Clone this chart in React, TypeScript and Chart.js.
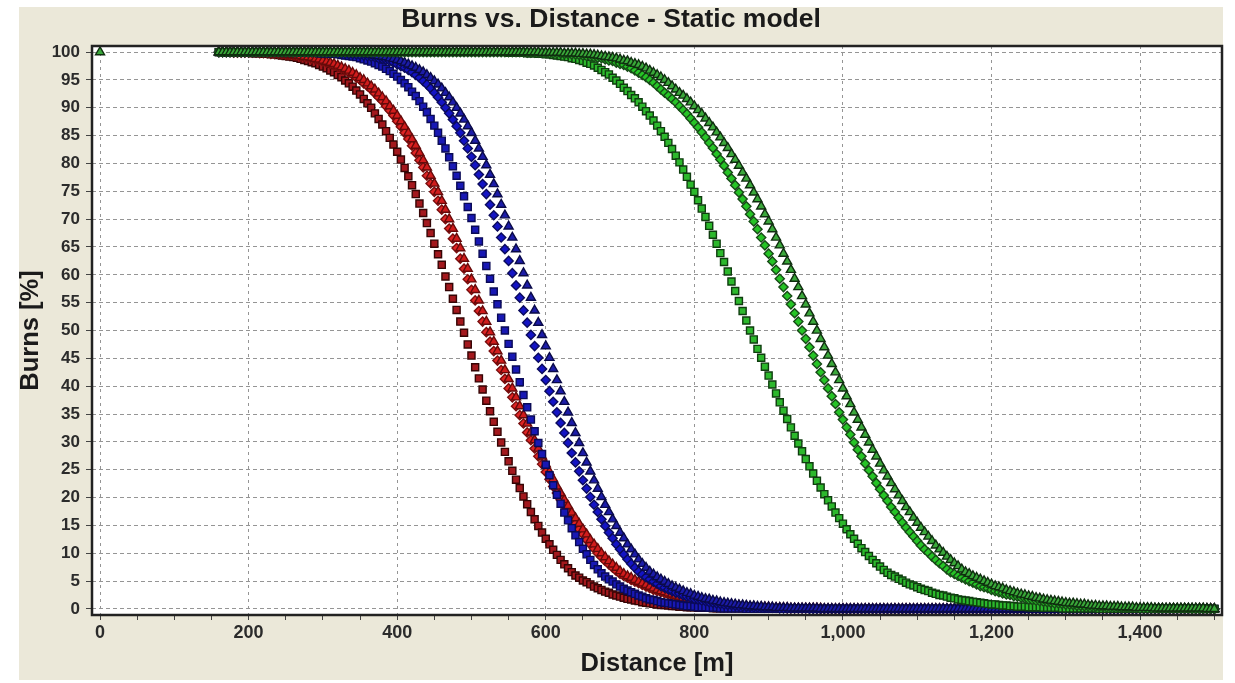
import React, { useEffect, useRef } from "react";
import { Chart, registerables } from "chart.js";

Chart.register(...registerables);

const FONT = '"Liberation Sans", Arial, Helvetica, sans-serif';

// Distance grid [m]
const DIST = [
  160, 165, 170, 175, 180, 185, 190, 195, 200, 205,
  210, 215, 220, 225, 230, 235, 240, 245, 250, 255,
  260, 265, 270, 275, 280, 285, 290, 295, 300, 305,
  310, 315, 320, 325, 330, 335, 340, 345, 350, 355,
  360, 365, 370, 375, 380, 385, 390, 395, 400, 405,
  410, 415, 420, 425, 430, 435, 440, 445, 450, 455,
  460, 465, 470, 475, 480, 485, 490, 495, 500, 505,
  510, 515, 520, 525, 530, 535, 540, 545, 550, 555,
  560, 565, 570, 575, 580, 585, 590, 595, 600, 605,
  610, 615, 620, 625, 630, 635, 640, 645, 650, 655,
  660, 665, 670, 675, 680, 685, 690, 695, 700, 705,
  710, 715, 720, 725, 730, 735, 740, 745, 750, 755,
  760, 765, 770, 775, 780, 785, 790, 795, 800, 805,
  810, 815, 820, 825, 830, 835, 840, 845, 850, 855,
  860, 865, 870, 875, 880, 885, 890, 895, 900, 905,
  910, 915, 920, 925, 930, 935, 940, 945, 950, 955,
  960, 965, 970, 975, 980, 985, 990, 995, 1000, 1005,
  1010, 1015, 1020, 1025, 1030, 1035, 1040, 1045, 1050, 1055,
  1060, 1065, 1070, 1075, 1080, 1085, 1090, 1095, 1100, 1105,
  1110, 1115, 1120, 1125, 1130, 1135, 1140, 1145, 1150, 1155,
  1160, 1165, 1170, 1175, 1180, 1185, 1190, 1195, 1200, 1205,
  1210, 1215, 1220, 1225, 1230, 1235, 1240, 1245, 1250, 1255,
  1260, 1265, 1270, 1275, 1280, 1285, 1290, 1295, 1300, 1305,
  1310, 1315, 1320, 1325, 1330, 1335, 1340, 1345, 1350, 1355,
  1360, 1365, 1370, 1375, 1380, 1385, 1390, 1395, 1400, 1405,
  1410, 1415, 1420, 1425, 1430, 1435, 1440, 1445, 1450, 1455,
  1460, 1465, 1470, 1475, 1480, 1485, 1490, 1495, 1500,
];

const RED_SQ = [
  100, 100, 99.9, 99.9, 99.9, 99.9, 99.9, 99.9, 99.9, 99.8,
  99.8, 99.8, 99.7, 99.7, 99.6, 99.6, 99.5, 99.4, 99.3, 99.2,
  99.1, 99.0, 98.8, 98.6, 98.4, 98.2, 98.0, 97.7, 97.4, 97.1,
  96.7, 96.4, 95.9, 95.5, 94.9, 94.4, 93.8, 93.1, 92.4, 91.6,
  90.8, 90.0, 89.0, 88.0, 87.0, 85.8, 84.6, 83.4, 82.1, 80.7,
  79.2, 77.7, 76.1, 74.5, 72.8, 71.1, 69.3, 67.5, 65.6, 63.7,
  61.8, 59.7, 57.8, 55.7, 53.7, 51.6, 49.6, 47.5, 45.5, 43.4,
  41.4, 39.4, 37.4, 35.5, 33.6, 31.8, 29.9, 28.2, 26.5, 24.8,
  23.2, 21.7, 20.2, 18.8, 17.4, 16.1, 14.9, 13.7, 12.6, 11.6,
  10.6, 9.7, 8.8, 8.0, 7.3, 6.6, 6.0, 5.6, 5.1, 4.8,
  4.4, 4.0, 3.7, 3.4, 3.1, 2.9, 2.6, 2.4, 2.2, 2.0,
  1.8, 1.7, 1.5, 1.4, 1.2, 1.1, 1.0, 0.9, 0.8, 0.7,
  0.7, 0.6, 0.5, 0.5, 0.4, 0.4, 0.3, 0.3, 0.3, 0.2,
  0.2, 0.2, 0.2, 0.1, 0.1, 0.1, 0.1, 0.1, 0.1, 0.1,
  0.1, 0.1, 0, 0, 0, 0, 0, 0, 0, 0,
  0, 0, 0, 0, 0, 0, 0, 0, 0, 0,
  0, 0, 0, 0, 0, 0, 0, 0, 0, 0,
  0, 0, 0, 0, 0, 0, 0, 0, 0, 0,
  0, 0, 0, 0, 0, 0, 0, 0, 0, 0,
  0, 0, 0, 0, 0, 0, 0, 0, 0, 0,
  0, 0, 0, 0, 0, 0, 0, 0, 0, 0,
  0, 0, 0, 0, 0, 0, 0, 0, 0, 0,
  0, 0, 0, 0, 0, 0, 0, 0, 0, 0,
  0, 0, 0, 0, 0, 0, 0, 0, 0, 0,
  0, 0, 0, 0, 0, 0, 0, 0, 0, 0,
  0, 0, 0, 0, 0, 0, 0, 0, 0, 0,
  0, 0, 0, 0, 0, 0, 0, 0, 0,
];

const RED_DIA = [
  100, 100, 100, 100, 99.9, 99.9, 99.9, 99.9, 99.9, 99.9,
  99.9, 99.8, 99.8, 99.8, 99.7, 99.7, 99.7, 99.6, 99.5, 99.5,
  99.4, 99.3, 99.2, 99.1, 99.0, 98.8, 98.7, 98.5, 98.3, 98.1,
  97.9, 97.6, 97.3, 97.0, 96.7, 96.3, 95.9, 95.4, 95.0, 94.4,
  93.9, 93.3, 92.6, 91.9, 91.2, 90.3, 89.5, 88.6, 87.6, 86.6,
  85.5, 84.4, 83.2, 81.9, 80.6, 79.3, 77.8, 76.4, 74.9, 73.3,
  71.7, 70.0, 68.3, 66.5, 64.8, 62.9, 61.1, 59.2, 57.3, 55.4,
  53.5, 51.6, 49.7, 48.0, 46.3, 44.6, 42.9, 41.3, 39.6, 38.0,
  36.4, 34.8, 33.3, 31.7, 30.3, 28.8, 27.4, 26.0, 24.6, 23.3,
  22.0, 20.8, 19.6, 18.5, 17.3, 16.3, 15.3, 14.3, 13.4, 12.4,
  11.6, 10.8, 10.0, 9.3, 8.6, 8.0, 7.4, 6.8, 6.3, 5.9,
  5.6, 5.2, 4.9, 4.6, 4.3, 4.0, 3.7, 3.4, 3.2, 3.0,
  2.8, 2.6, 2.4, 2.2, 2.0, 1.9, 1.7, 1.6, 1.5, 1.4,
  1.2, 1.1, 1.0, 1.0, 0.9, 0.8, 0.7, 0.7, 0.6, 0.6,
  0.5, 0.5, 0.4, 0.4, 0.3, 0.3, 0.3, 0.3, 0.2, 0.2,
  0.2, 0.2, 0.2, 0.1, 0.1, 0.1, 0.1, 0.1, 0.1, 0.1,
  0.1, 0.1, 0, 0, 0, 0, 0, 0, 0, 0,
  0, 0, 0, 0, 0, 0, 0, 0, 0, 0,
  0, 0, 0, 0, 0, 0, 0, 0, 0, 0,
  0, 0, 0, 0, 0, 0, 0, 0, 0, 0,
  0, 0, 0, 0, 0, 0, 0, 0, 0, 0,
  0, 0, 0, 0, 0, 0, 0, 0, 0, 0,
  0, 0, 0, 0, 0, 0, 0, 0, 0, 0,
  0, 0, 0, 0, 0, 0, 0, 0, 0, 0,
  0, 0, 0, 0, 0, 0, 0, 0, 0, 0,
  0, 0, 0, 0, 0, 0, 0, 0, 0, 0,
  0, 0, 0, 0, 0, 0, 0, 0, 0,
];

const RED_TRI = [
  100, 100, 100, 100, 100, 99.9, 99.9, 99.9, 99.9, 99.9,
  99.9, 99.9, 99.8, 99.8, 99.8, 99.7, 99.7, 99.7, 99.6, 99.5,
  99.5, 99.4, 99.3, 99.2, 99.1, 99.0, 98.8, 98.7, 98.5, 98.3,
  98.1, 97.9, 97.6, 97.3, 97.0, 96.7, 96.3, 95.9, 95.4, 95.0,
  94.4, 93.9, 93.3, 92.6, 91.9, 91.2, 90.3, 89.5, 88.6, 87.6,
  86.6, 85.5, 84.4, 83.2, 81.9, 80.6, 79.3, 77.8, 76.4, 74.9,
  73.3, 71.7, 70.0, 68.3, 66.5, 64.8, 62.9, 61.1, 59.2, 57.3,
  55.4, 53.5, 51.6, 49.7, 48.0, 46.3, 44.6, 42.9, 41.3, 39.6,
  38.0, 36.4, 34.8, 33.3, 31.7, 30.3, 28.8, 27.4, 26.0, 24.6,
  23.3, 22.0, 20.8, 19.6, 18.5, 17.3, 16.3, 15.3, 14.3, 13.4,
  12.4, 11.6, 10.8, 10.0, 9.3, 8.6, 8.0, 7.4, 6.8, 6.3,
  5.9, 5.6, 5.2, 4.9, 4.6, 4.3, 4.0, 3.7, 3.4, 3.2,
  3.0, 2.8, 2.6, 2.4, 2.2, 2.0, 1.9, 1.7, 1.6, 1.5,
  1.4, 1.2, 1.1, 1.0, 1.0, 0.9, 0.8, 0.7, 0.7, 0.6,
  0.6, 0.5, 0.5, 0.4, 0.4, 0.3, 0.3, 0.3, 0.3, 0.2,
  0.2, 0.2, 0.2, 0.2, 0.1, 0.1, 0.1, 0.1, 0.1, 0.1,
  0.1, 0.1, 0.1, 0, 0, 0, 0, 0, 0, 0,
  0, 0, 0, 0, 0, 0, 0, 0, 0, 0,
  0, 0, 0, 0, 0, 0, 0, 0, 0, 0,
  0, 0, 0, 0, 0, 0, 0, 0, 0, 0,
  0, 0, 0, 0, 0, 0, 0, 0, 0, 0,
  0, 0, 0, 0, 0, 0, 0, 0, 0, 0,
  0, 0, 0, 0, 0, 0, 0, 0, 0, 0,
  0, 0, 0, 0, 0, 0, 0, 0, 0, 0,
  0, 0, 0, 0, 0, 0, 0, 0, 0, 0,
  0, 0, 0, 0, 0, 0, 0, 0, 0, 0,
  0, 0, 0, 0, 0, 0, 0, 0, 0,
];

const BLUE_SQ = [
  100, 100, 100, 100, 100, 100, 100, 100, 100, 100,
  100, 100, 100, 100, 100, 100, 100, 100, 100, 100,
  100, 100, 99.9, 99.9, 99.9, 99.9, 99.9, 99.8, 99.8, 99.8,
  99.7, 99.7, 99.6, 99.5, 99.4, 99.3, 99.2, 99.1, 98.9, 98.7,
  98.5, 98.3, 98.0, 97.7, 97.4, 97.0, 96.6, 96.1, 95.6, 95.0,
  94.4, 93.7, 92.9, 92.1, 91.2, 90.2, 89.2, 88.0, 86.8, 85.5,
  84.1, 82.7, 81.1, 79.5, 77.8, 76.0, 74.1, 72.2, 70.2, 68.1,
  66.0, 63.8, 61.6, 59.3, 57.0, 54.7, 52.3, 50.0, 47.6, 45.3,
  43.0, 40.7, 38.4, 36.2, 34.0, 31.9, 29.8, 27.8, 25.9, 24.0,
  22.2, 20.5, 18.9, 17.3, 15.9, 14.5, 13.2, 12.0, 10.8, 9.8,
  8.8, 7.9, 7.1, 6.4, 5.8, 5.3, 4.9, 4.4, 4.0, 3.6,
  3.3, 3.0, 2.7, 2.4, 2.2, 1.9, 1.7, 1.6, 1.4, 1.2,
  1.1, 1.0, 0.9, 0.8, 0.7, 0.6, 0.5, 0.5, 0.4, 0.3,
  0.3, 0.3, 0.2, 0.2, 0.2, 0.1, 0.1, 0.1, 0.1, 0.1,
  0.1, 0.1, 0, 0, 0, 0, 0, 0, 0, 0,
  0, 0, 0, 0, 0, 0, 0, 0, 0, 0,
  0, 0, 0, 0, 0, 0, 0, 0, 0, 0,
  0, 0, 0, 0, 0, 0, 0, 0, 0, 0,
  0, 0, 0, 0, 0, 0, 0, 0, 0, 0,
  0, 0, 0, 0, 0, 0, 0, 0, 0, 0,
  0, 0, 0, 0, 0, 0, 0, 0, 0, 0,
  0, 0, 0, 0, 0, 0, 0, 0, 0, 0,
  0, 0, 0, 0, 0, 0, 0, 0, 0, 0,
  0, 0, 0, 0, 0, 0, 0, 0, 0, 0,
  0, 0, 0, 0, 0, 0, 0, 0, 0, 0,
  0, 0, 0, 0, 0, 0, 0, 0, 0, 0,
  0, 0, 0, 0, 0, 0, 0, 0, 0,
];

const BLUE_DIA = [
  100, 100, 100, 100, 100, 100, 100, 100, 100, 100,
  100, 100, 100, 100, 100, 100, 100, 100, 100, 100,
  100, 100, 100, 100, 100, 100, 100, 99.9, 99.9, 99.9,
  99.9, 99.9, 99.8, 99.8, 99.8, 99.7, 99.7, 99.6, 99.5, 99.4,
  99.3, 99.2, 99.1, 98.9, 98.8, 98.6, 98.4, 98.1, 97.8, 97.5,
  97.2, 96.8, 96.4, 95.9, 95.4, 94.8, 94.2, 93.5, 92.7, 91.9,
  91.0, 90.0, 89.0, 87.9, 86.7, 85.5, 84.1, 82.7, 81.2, 79.7,
  78.0, 76.3, 74.5, 72.6, 70.7, 68.7, 66.7, 64.6, 62.5, 60.3,
  58.1, 55.9, 53.6, 51.4, 49.2, 47.2, 45.1, 43.1, 41.1, 39.1,
  37.2, 35.3, 33.4, 31.6, 29.8, 28.0, 26.3, 24.7, 23.1, 21.6,
  20.1, 18.7, 17.4, 16.1, 14.9, 13.7, 12.7, 11.6, 10.7, 9.8,
  8.9, 8.1, 7.4, 6.7, 6.2, 5.7, 5.3, 4.9, 4.5, 4.1,
  3.8, 3.5, 3.2, 2.9, 2.7, 2.4, 2.2, 2.0, 1.8, 1.7,
  1.5, 1.4, 1.2, 1.1, 1.0, 0.9, 0.8, 0.7, 0.7, 0.6,
  0.5, 0.5, 0.4, 0.4, 0.3, 0.3, 0.3, 0.2, 0.2, 0.2,
  0.2, 0.1, 0.1, 0.1, 0.1, 0.1, 0.1, 0.1, 0.1, 0,
  0, 0, 0, 0, 0, 0, 0, 0, 0, 0,
  0, 0, 0, 0, 0, 0, 0, 0, 0, 0,
  0, 0, 0, 0, 0, 0, 0, 0, 0, 0,
  0, 0, 0, 0, 0, 0, 0, 0, 0, 0,
  0, 0, 0, 0, 0, 0, 0, 0, 0, 0,
  0, 0, 0, 0, 0, 0, 0, 0, 0, 0,
  0, 0, 0, 0, 0, 0, 0, 0, 0, 0,
  0, 0, 0, 0, 0, 0, 0, 0, 0, 0,
  0, 0, 0, 0, 0, 0, 0, 0, 0, 0,
  0, 0, 0, 0, 0, 0, 0, 0, 0, 0,
  0, 0, 0, 0, 0, 0, 0, 0, 0,
];

const BLUE_TRI = [
  100, 100, 100, 100, 100, 100, 100, 100, 100, 100,
  100, 100, 100, 100, 100, 100, 100, 100, 100, 100,
  100, 100, 100, 100, 100, 100, 100, 100, 100, 100,
  99.9, 99.9, 99.9, 99.9, 99.9, 99.8, 99.8, 99.8, 99.7, 99.7,
  99.6, 99.5, 99.4, 99.3, 99.2, 99.1, 98.9, 98.8, 98.6, 98.4,
  98.1, 97.8, 97.5, 97.2, 96.8, 96.4, 95.9, 95.4, 94.8, 94.2,
  93.5, 92.7, 91.9, 91.0, 90.0, 89.0, 87.9, 86.7, 85.5, 84.1,
  82.7, 81.2, 79.7, 78.0, 76.3, 74.5, 72.6, 70.7, 68.7, 66.7,
  64.6, 62.5, 60.3, 58.1, 55.9, 53.6, 51.4, 49.2, 47.2, 45.1,
  43.1, 41.1, 39.1, 37.2, 35.3, 33.4, 31.6, 29.8, 28.0, 26.3,
  24.7, 23.1, 21.6, 20.1, 18.7, 17.4, 16.1, 14.9, 13.7, 12.7,
  11.6, 10.7, 9.8, 8.9, 8.1, 7.4, 6.7, 6.2, 5.7, 5.3,
  4.9, 4.5, 4.1, 3.8, 3.5, 3.2, 2.9, 2.7, 2.4, 2.2,
  2.0, 1.8, 1.7, 1.5, 1.4, 1.2, 1.1, 1.0, 0.9, 0.8,
  0.7, 0.7, 0.6, 0.5, 0.5, 0.4, 0.4, 0.3, 0.3, 0.3,
  0.2, 0.2, 0.2, 0.2, 0.1, 0.1, 0.1, 0.1, 0.1, 0.1,
  0.1, 0.1, 0, 0, 0, 0, 0, 0, 0, 0,
  0, 0, 0, 0, 0, 0, 0, 0, 0, 0,
  0, 0, 0, 0, 0, 0, 0, 0, 0, 0,
  0, 0, 0, 0, 0, 0, 0, 0, 0, 0,
  0, 0, 0, 0, 0, 0, 0, 0, 0, 0,
  0, 0, 0, 0, 0, 0, 0, 0, 0, 0,
  0, 0, 0, 0, 0, 0, 0, 0, 0, 0,
  0, 0, 0, 0, 0, 0, 0, 0, 0, 0,
  0, 0, 0, 0, 0, 0, 0, 0, 0, 0,
  0, 0, 0, 0, 0, 0, 0, 0, 0, 0,
  0, 0, 0, 0, 0, 0, 0, 0, 0,
];

const GREEN_SQ = [
  100, 100, 100, 100, 100, 100, 100, 100, 100, 100,
  100, 100, 100, 100, 100, 100, 100, 100, 100, 100,
  100, 100, 100, 100, 100, 100, 100, 100, 100, 100,
  100, 100, 100, 100, 100, 100, 100, 100, 100, 100,
  100, 100, 100, 100, 100, 100, 100, 100, 100, 100,
  100, 100, 100, 100, 100, 100, 100, 100, 100, 100,
  100, 100, 100, 100, 100, 100, 100, 100, 100, 100,
  100, 100, 100, 100, 100, 100, 100, 100, 99.9, 99.9,
  99.9, 99.9, 99.9, 99.8, 99.8, 99.8, 99.7, 99.7, 99.6, 99.6,
  99.5, 99.4, 99.3, 99.2, 99.1, 98.9, 98.8, 98.6, 98.4, 98.1,
  97.9, 97.6, 97.2, 96.8, 96.4, 96.0, 95.4, 94.9, 94.3, 93.6,
  93.0, 92.3, 91.7, 91.0, 90.2, 89.4, 88.6, 87.7, 86.8, 85.8,
  84.8, 83.7, 82.6, 81.4, 80.2, 78.9, 77.6, 76.2, 74.9, 73.4,
  71.9, 70.4, 68.8, 67.2, 65.6, 63.9, 62.3, 60.6, 58.8, 57.1,
  55.3, 53.5, 51.8, 50.0, 48.4, 46.7, 45.1, 43.5, 41.9, 40.3,
  38.7, 37.1, 35.6, 34.1, 32.6, 31.1, 29.7, 28.3, 26.9, 25.6,
  24.3, 23.0, 21.8, 20.6, 19.5, 18.4, 17.3, 16.3, 15.3, 14.3,
  13.4, 12.6, 11.7, 10.9, 10.2, 9.5, 8.8, 8.2, 7.6, 7.0,
  6.5, 6.1, 5.8, 5.4, 5.1, 4.7, 4.4, 4.2, 3.9, 3.6,
  3.4, 3.2, 2.9, 2.7, 2.5, 2.4, 2.2, 2.0, 1.9, 1.7,
  1.6, 1.5, 1.4, 1.3, 1.2, 1.1, 1.0, 0.9, 0.8, 0.8,
  0.7, 0.6, 0.6, 0.5, 0.5, 0.4, 0.4, 0.4, 0.3, 0.3,
  0.3, 0.3, 0.2, 0.2, 0.2, 0.2, 0.2, 0.1, 0.1, 0.1,
  0.1, 0.1, 0.1, 0.1, 0.1, 0.1, 0.1, 0, 0, 0,
  0, 0, 0, 0, 0, 0, 0, 0, 0, 0,
  0, 0, 0, 0, 0, 0, 0, 0, 0, 0,
  0, 0, 0, 0, 0, 0, 0, 0, 0,
];

const GREEN_DIA = [
  100, 100, 100, 100, 100, 100, 100, 100, 100, 100,
  100, 100, 100, 100, 100, 100, 100, 100, 100, 100,
  100, 100, 100, 100, 100, 100, 100, 100, 100, 100,
  100, 100, 100, 100, 100, 100, 100, 100, 100, 100,
  100, 100, 100, 100, 100, 100, 100, 100, 100, 100,
  100, 100, 100, 100, 100, 100, 100, 100, 100, 100,
  100, 100, 100, 100, 100, 100, 100, 100, 100, 100,
  100, 100, 100, 100, 100, 100, 100, 100, 100, 100,
  100, 100, 100, 99.9, 99.9, 99.9, 99.9, 99.9, 99.9, 99.8,
  99.8, 99.8, 99.8, 99.7, 99.7, 99.6, 99.6, 99.5, 99.4, 99.3,
  99.2, 99.1, 99.0, 98.9, 98.7, 98.5, 98.4, 98.1, 97.9, 97.7,
  97.4, 97.1, 96.7, 96.3, 95.9, 95.5, 95.0, 94.5, 93.9, 93.3,
  92.7, 92.2, 91.6, 91.0, 90.3, 89.6, 88.9, 88.1, 87.3, 86.5,
  85.6, 84.7, 83.7, 82.8, 81.7, 80.7, 79.6, 78.4, 77.3, 76.1,
  74.8, 73.6, 72.3, 70.9, 69.6, 68.2, 66.7, 65.3, 63.8, 62.4,
  60.9, 59.3, 57.8, 56.2, 54.7, 53.1, 51.6, 50.0, 48.5, 47.0,
  45.5, 44.0, 42.5, 41.1, 39.6, 38.2, 36.8, 35.3, 34.0, 32.6,
  31.3, 29.9, 28.6, 27.4, 26.1, 24.9, 23.8, 22.6, 21.5, 20.4,
  19.4, 18.3, 17.4, 16.4, 15.5, 14.6, 13.8, 13.0, 12.2, 11.4,
  10.7, 10.1, 9.4, 8.8, 8.2, 7.7, 7.1, 6.6, 6.3, 5.9,
  5.6, 5.3, 5.0, 4.7, 4.4, 4.1, 3.9, 3.7, 3.4, 3.2,
  3.0, 2.8, 2.6, 2.5, 2.3, 2.2, 2.0, 1.9, 1.7, 1.6,
  1.5, 1.4, 1.3, 1.2, 1.1, 1.0, 1.0, 0.9, 0.8, 0.8,
  0.7, 0.6, 0.6, 0.5, 0.5, 0.5, 0.4, 0.4, 0.4, 0.3,
  0.3, 0.3, 0.3, 0.2, 0.2, 0.2, 0.2, 0.2, 0.1, 0.1,
  0.1, 0.1, 0.1, 0.1, 0.1, 0.1, 0.1, 0.1, 0.1, 0.1,
  0.1, 0.1, 0, 0, 0, 0, 0, 0, 0,
];

const GREEN_TRI = [
  100, 100, 100, 100, 100, 100, 100, 100, 100, 100,
  100, 100, 100, 100, 100, 100, 100, 100, 100, 100,
  100, 100, 100, 100, 100, 100, 100, 100, 100, 100,
  100, 100, 100, 100, 100, 100, 100, 100, 100, 100,
  100, 100, 100, 100, 100, 100, 100, 100, 100, 100,
  100, 100, 100, 100, 100, 100, 100, 100, 100, 100,
  100, 100, 100, 100, 100, 100, 100, 100, 100, 100,
  100, 100, 100, 100, 100, 100, 100, 100, 100, 100,
  100, 100, 100, 100, 100, 100, 100, 99.9, 99.9, 99.9,
  99.9, 99.9, 99.9, 99.8, 99.8, 99.8, 99.8, 99.7, 99.7, 99.6,
  99.6, 99.5, 99.4, 99.3, 99.2, 99.1, 99.0, 98.9, 98.7, 98.5,
  98.4, 98.1, 97.9, 97.7, 97.4, 97.1, 96.7, 96.3, 95.9, 95.5,
  95.0, 94.5, 93.9, 93.3, 92.7, 92.2, 91.6, 91.0, 90.3, 89.6,
  88.9, 88.1, 87.3, 86.5, 85.6, 84.7, 83.7, 82.8, 81.7, 80.7,
  79.6, 78.4, 77.3, 76.1, 74.8, 73.6, 72.3, 70.9, 69.6, 68.2,
  66.7, 65.3, 63.8, 62.4, 60.9, 59.3, 57.8, 56.2, 54.7, 53.1,
  51.6, 50.0, 48.5, 47.0, 45.5, 44.0, 42.5, 41.1, 39.6, 38.2,
  36.8, 35.3, 34.0, 32.6, 31.3, 29.9, 28.6, 27.4, 26.1, 24.9,
  23.8, 22.6, 21.5, 20.4, 19.4, 18.3, 17.4, 16.4, 15.5, 14.6,
  13.8, 13.0, 12.2, 11.4, 10.7, 10.1, 9.4, 8.8, 8.2, 7.7,
  7.1, 6.6, 6.3, 5.9, 5.6, 5.3, 5.0, 4.7, 4.4, 4.1,
  3.9, 3.7, 3.4, 3.2, 3.0, 2.8, 2.6, 2.5, 2.3, 2.2,
  2.0, 1.9, 1.7, 1.6, 1.5, 1.4, 1.3, 1.2, 1.1, 1.0,
  1.0, 0.9, 0.8, 0.8, 0.7, 0.6, 0.6, 0.5, 0.5, 0.5,
  0.4, 0.4, 0.4, 0.3, 0.3, 0.3, 0.3, 0.2, 0.2, 0.2,
  0.2, 0.2, 0.1, 0.1, 0.1, 0.1, 0.1, 0.1, 0.1, 0.1,
  0.1, 0.1, 0.1, 0.1, 0.1, 0.1, 0, 0, 0,
];

// Single green triangle drawn at the origin
const LONE_X = [0];
const LONE_Y = [100];

const X_TICKS = [
  0, 50, 100, 150, 200, 250, 300, 350, 400, 450, 500, 550, 600, 650, 700, 750,
  800, 850, 900, 950, 1000, 1050, 1100, 1150, 1200, 1250, 1300, 1350, 1400, 1450, 1500,
];
const X_LABEL_EVERY = 200;
const Y_TICKS = [0, 5, 10, 15, 20, 25, 30, 35, 40, 45, 50, 55, 60, 65, 70, 75, 80, 85, 90, 95, 100];

const TITLE = "Burns vs. Distance - Static model";
const X_TITLE = "Distance [m]";
const Y_TITLE = "Burns [%]";

const pts = (ys: number[]) => DIST.map((x, i) => ({ x, y: ys[i] }));

const framePlugin = {
  id: "framePlugin",
  beforeDraw(chart: any) {
    const { ctx, chartArea: a, width, height } = chart;
    ctx.save();
    ctx.fillStyle = "#ffffff";
    ctx.fillRect(0, 0, width, height);
    ctx.fillStyle = "#ebe8d9";
    ctx.fillRect(19, 7, 1204, 673);
    ctx.fillStyle = "#ffffff";
    ctx.fillRect(a.left, a.top, a.right - a.left, a.bottom - a.top);
    ctx.restore();
  },
  afterDatasetsDraw(chart: any) {
    const { ctx, chartArea: a } = chart;
    ctx.save();
    ctx.strokeStyle = "#222222";
    ctx.lineWidth = 2.5;
    ctx.strokeRect(a.left, a.top, a.right - a.left, a.bottom - a.top);
    ctx.restore();
  },
};

function ds(label: string, data: any[], style: string, bg: string, border: string, radius: number) {
  return {
    label,
    data,
    pointStyle: style,
    backgroundColor: bg,
    borderColor: border,
    pointBackgroundColor: bg,
    pointBorderColor: border,
    pointRadius: radius,
    pointBorderWidth: 1.4,
    showLine: false,
  };
}

export default function App() {
  const ref = useRef<HTMLCanvasElement>(null);

  useEffect(() => {
    const canvas = ref.current;
    if (!canvas) return;

    const greenTriData = [
      ...LONE_X.map((x, i) => ({ x, y: LONE_Y[i] })),
      ...pts(GREEN_TRI),
    ];

    const datasets = [
      ds("Green triangles", greenTriData, "triangle", "#3aa83a", "#0f2e0f", 5.2),
      ds("Green diamonds", pts(GREEN_DIA), "rectRot", "#26c426", "#174a17", 4.6),
      ds("Green squares", pts(GREEN_SQ), "rect", "#2cb82c", "#0f3d0f", 5.0),
      ds("Blue triangles", pts(BLUE_TRI), "triangle", "#1c1ca8", "#0a0a48", 5.2),
      ds("Blue diamonds", pts(BLUE_DIA), "rectRot", "#1414c4", "#0b0b5c", 4.6),
      ds("Blue squares", pts(BLUE_SQ), "rect", "#1818b4", "#0a0a55", 5.0),
      ds("Red triangles", pts(RED_TRI), "triangle", "#d01c1c", "#650a0a", 5.2),
      ds("Red diamonds", pts(RED_DIA), "rectRot", "#e02424", "#780e0e", 4.6),
      ds("Red squares", pts(RED_SQ), "rect", "#a3181d", "#350505", 5.0),
    ];

    const chart = new Chart(canvas, {
      type: "scatter",
      data: { datasets } as any,
      options: {
        animation: false,
        responsive: false,
        devicePixelRatio: 1,
        layout: { padding: { left: 0, right: 13, top: 0, bottom: 0 } },
        plugins: {
          legend: { display: false },
          tooltip: { enabled: false },
          title: {
            display: true,
            text: TITLE,
            color: "#1a1a1a",
            font: { family: FONT, size: 26.5, weight: "bold" },
            padding: { top: 4, bottom: 10.2 },
          },
        },
        scales: {
          x: {
            type: "linear",
            min: -10.8,
            max: 1510.3,
            afterBuildTicks: (s: any) => {
              s.ticks = X_TICKS.map((v) => ({ value: v }));
            },
            afterFit: (s: any) => {
              s.height = 68;
            },
            ticks: {
              autoSkip: false,
              maxRotation: 0,
              minRotation: 0,
              padding: 2,
              color: "#2b2b2b",
              font: { family: FONT, size: 18, weight: "bold" },
              callback: (v: any) =>
                Number(v) % X_LABEL_EVERY === 0 ? Number(v).toLocaleString("en-US") : "",
            },
            grid: {
              color: (c: any) =>
                c.tick && c.tick.value % X_LABEL_EVERY === 0 ? "#959595" : "rgba(0,0,0,0)",
              lineWidth: 1,
              drawTicks: true,
              tickLength: 5,
              tickColor: "#444444",
              tickWidth: 1,
              tickBorderDash: [],
            },
            border: { display: false, dash: [3, 4] },
            title: {
              display: true,
              text: X_TITLE,
              color: "#1b1b1b",
              font: { family: FONT, size: 25.5, weight: "bold" },
              padding: { top: 0, bottom: 4 },
            },
          },
          y: {
            type: "linear",
            min: -1.1,
            max: 101.1,
            afterBuildTicks: (s: any) => {
              s.ticks = Y_TICKS.map((v) => ({ value: v }));
            },
            afterFit: (s: any) => {
              s.width = 92;
            },
            ticks: {
              autoSkip: false,
              padding: 6,
              color: "#2b2b2b",
              font: { family: FONT, size: 17, weight: "bold" },
              callback: (v: any) => String(v),
            },
            grid: {
              color: "#959595",
              lineWidth: 1,
              drawTicks: true,
              tickLength: 6,
              tickColor: "#444444",
              tickWidth: 1,
              tickBorderDash: [],
            },
            border: { display: false, dash: [4, 3] },
            title: {
              display: true,
              text: Y_TITLE,
              color: "#1b1b1b",
              font: { family: FONT, size: 25.5, weight: "bold" },
              padding: { top: 16, bottom: 0 },
            },
          },
        },
      } as any,
      plugins: [framePlugin],
    });

    return () => chart.destroy();
  }, []);

  return (
    <div style={{ position: "fixed", left: 0, top: 0, width: 1235, height: 683 }}>
      <canvas ref={ref} width={1235} height={683} style={{ display: "block" }} />
    </div>
  );
}
